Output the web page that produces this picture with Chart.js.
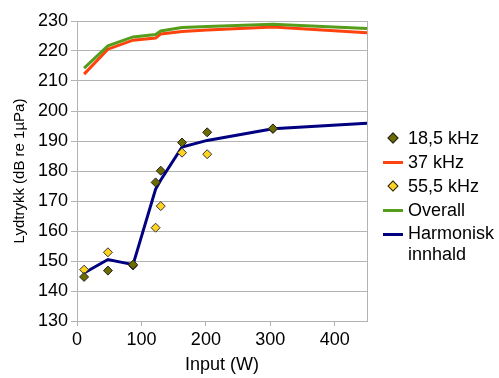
<!DOCTYPE html>
<html>
<head>
<meta charset="utf-8">
<script src="https://cdn.jsdelivr.net/npm/chart.js@4.4.1/dist/chart.umd.min.js"></script>
<style>
  body { margin: 0; background: #fff; }
  #wrap { position: relative; width: 499px; height: 378px; }
  #legend { position: absolute; left: 383px; top: 126px; font: 18px "Liberation Sans", Arial, sans-serif; color: #000; }
  .item { position: relative; height: 24px; line-height: 24px; padding-left: 25px; white-space: nowrap; }
  .item.two { height: 44px; line-height: 21px; padding-top: 1px; }
  .line { position: absolute; left: 0; top: 11px; width: 20px; height: 3px; }
  .dia { position: absolute; left: 6px; top: 8px; width: 6px; height: 6px; transform: rotate(45deg); border: 1px solid #222; }
</style>
</head>
<body>
<div id="wrap">
  <canvas id="chart" width="499" height="378"></canvas>
  <div id="legend">
    <div class="item"><span class="dia" style="background:#6b6b00"></span>18,5 kHz</div>
    <div class="item"><span class="line" style="background:#ff420e"></span>37 kHz</div>
    <div class="item"><span class="dia" style="background:#ffd320"></span>55,5 kHz</div>
    <div class="item"><span class="line" style="background:#579d1c"></span>Overall</div>
    <div class="item two"><span class="line" style="background:#000080"></span>Harmonisk<br>innhald</div>
  </div>
</div>
<script>
// input power (W) where the measurements were taken
var inputW = [11, 48, 87, 122, 130, 163, 202, 304, 450];
var overall = [214.3, 221.7, 224.7, 225.5, 226.7, 227.8, 228.2, 228.9, 227.5];
var khz37 = [212.3, 220.6, 223.6, 224.3, 225.7, 226.5, 227.0, 228.0, 226.1];
var harmonisk = [146.0, 150.5, 148.8, 174.0, 177.0, 188.0, 190.2, 194.1, 195.9];
// scatter points (no value at 450 W)
var khz18 = [144.7, 146.8, 148.8, 176.2, 180.1, 189.5, 192.9, 194.2];
var khz55 = [147.1, 152.9, 148.5, 161.1, 168.3, 186.1, 185.6, 194.0];

function pts(ys) {
  return ys.map(function(y, i) { return { x: inputW[i], y: y }; });
}

var gridGrey = '#b3b3b3';
var font = 'Liberation Sans';

// grey frame round the plot area
var frame = {
  id: 'frame',
  beforeDatasetsDraw: function(chart) {
    var a = chart.chartArea, c = chart.ctx;
    c.save();
    c.strokeStyle = gridGrey;
    c.lineWidth = 1;
    c.strokeRect(a.left + 0.5, a.top + 0.5, a.right - a.left, a.bottom - a.top);
    c.restore();
  }
};

var ctx = document.getElementById('chart').getContext('2d');
var myChart = new Chart(ctx, {
  type: 'scatter',
  data: {
    datasets: [
      {
        label: '18,5 kHz',
        data: pts(khz18),
        pointStyle: 'rectRot',
        pointRadius: 4.5,
        backgroundColor: '#6b6b00',
        borderColor: '#222',
        borderWidth: 1,
        order: 1
      },
      {
        label: '55,5 kHz',
        data: pts(khz55),
        pointStyle: 'rectRot',
        pointRadius: 4.5,
        backgroundColor: '#ffd320',
        borderColor: '#333',
        borderWidth: 1,
        order: 2
      },
      {
        label: 'Harmonisk innhald',
        data: pts(harmonisk),
        showLine: true,
        borderColor: '#000080',
        borderWidth: 3,
        pointRadius: 0,
        order: 3
      },
      {
        label: 'Overall',
        data: pts(overall),
        showLine: true,
        borderColor: '#579d1c',
        borderWidth: 3,
        pointRadius: 0,
        order: 4
      },
      {
        label: '37 kHz',
        data: pts(khz37),
        showLine: true,
        borderColor: '#ff420e',
        borderWidth: 3,
        pointRadius: 0,
        order: 5
      }
    ]
  },
  options: {
    responsive: false,
    animation: false,
    layout: { padding: { top: 21, right: 132, left: 0, bottom: 0 } },
    plugins: {
      legend: { display: false },
      tooltip: { enabled: false }
    },
    scales: {
      x: {
        type: 'linear',
        min: 0,
        max: 450,
        afterFit: function(s) { s.height = 57; },
        ticks: { stepSize: 100, includeBounds: false, padding: 3, color: '#000', font: { family: font, size: 18 } },
        grid: { drawOnChartArea: false, tickLength: 5, color: gridGrey },
        border: { color: gridGrey },
        title: { display: true, text: 'Input (W)', color: '#000', padding: { top: 0, bottom: 2 }, font: { family: font, size: 18 } }
      },
      y: {
        min: 130,
        max: 230,
        afterFit: function(s) { s.width = 77; },
        ticks: { stepSize: 10, padding: 3, color: '#000', font: { family: font, size: 18 } },
        grid: { color: gridGrey, tickLength: 6 },
        border: { color: gridGrey },
        title: { display: true, text: 'Lydtrykk (dB re 1µPa)', color: '#000', padding: { top: 11, bottom: 0 }, font: { family: font, size: 15 } }
      }
    }
  },
  plugins: [frame]
});
</script>
</body>
</html>
